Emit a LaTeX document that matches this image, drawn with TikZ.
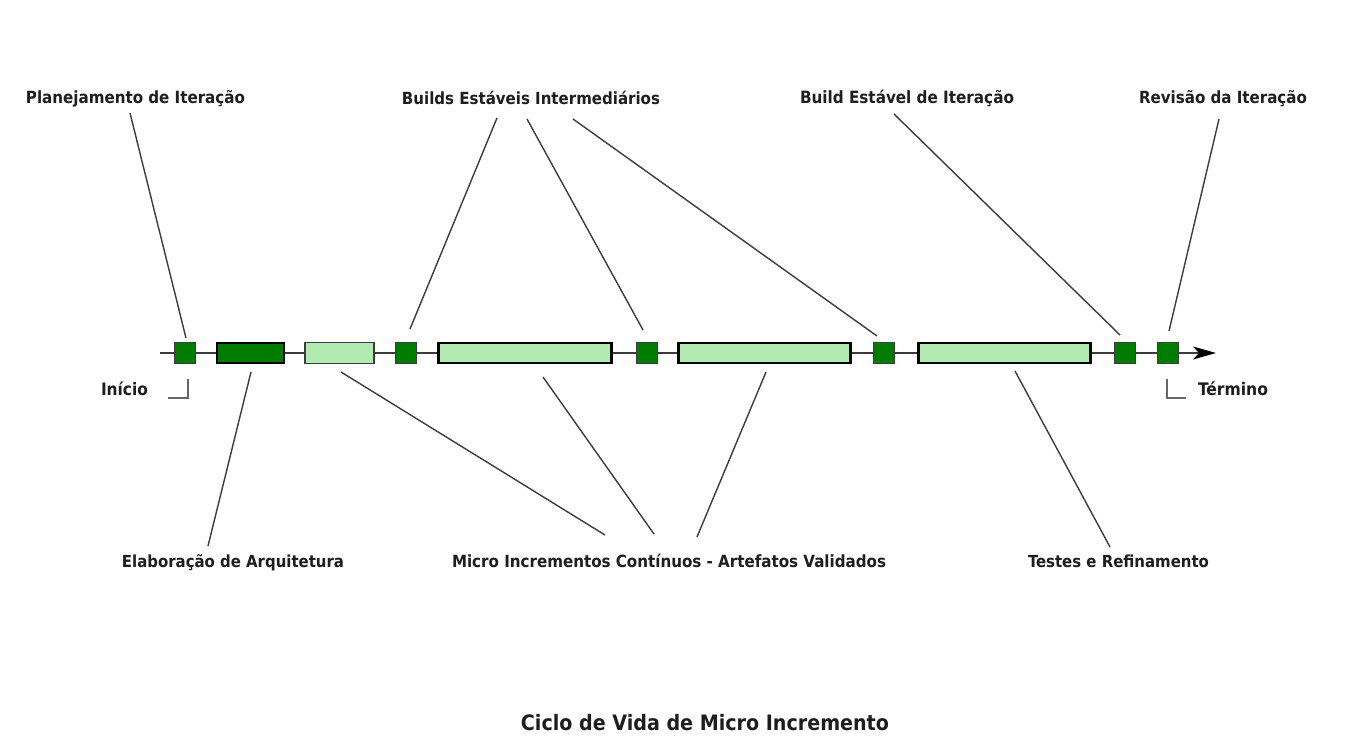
\documentclass[tikz,border=0pt]{standalone}
\usepackage{fontspec}
\setmainfont{DejaVu Sans Condensed}
\usetikzlibrary{arrows.meta}
\definecolor{dg}{RGB}{0,125,0}
\definecolor{lg}{RGB}{178,235,178}
\definecolor{ln}{RGB}{60,60,60}
\definecolor{tx}{RGB}{30,30,30}
\newcommand{\fitto}[2]{\resizebox{#1pt}{!}{\bfseries #2}}
\begin{document}
\begin{tikzpicture}[x=1pt,y=-1pt,
  lbl/.style={inner sep=0pt,anchor=base,text=tx},
  conn/.style={draw=ln,line width=1.4pt},
  brk/.style={draw=black!60,line width=1.4pt},
  sq/.style={draw=ln,line width=0.9pt,fill=dg,minimum width=21pt,minimum height=21pt,inner sep=0pt},
  barthick/.style={draw=black,line width=2.4pt,minimum height=20pt,inner sep=0pt},
  barthin/.style={draw=ln,line width=1.1pt,fill=lg,minimum height=21pt,inner sep=0pt},
  axis/.style={draw=ln,line width=1.3pt,-{Stealth[length=23pt,width=13pt,inset=6pt,color=black]}}
]
\fill[white] (0,0) rectangle (1365,749);
\useasboundingbox (0,0) rectangle (1365,749);

% axis
\coordinate (axs) at (160,353);
\coordinate (axe) at (1216,353);
\draw[axis] (axs) -- (axe);

% timeline elements
\node[sq] (s1) at (185,353) {};
\node[barthick,fill=dg,minimum width=67pt] (b1) at (250.5,353) {};
\node[barthin,minimum width=69pt] (b2) at (339.5,353) {};
\node[sq] (s2) at (406,353) {};
\node[barthick,fill=lg,minimum width=173pt] (b3) at (525,353) {};
\node[sq] (s3) at (647,353) {};
\node[barthick,fill=lg,minimum width=172pt] (b4) at (764.5,353) {};
\node[sq] (s4) at (884,353) {};
\node[barthick,fill=lg,minimum width=172pt] (b5) at (1004.5,353) {};
\node[sq] (s5) at (1124.5,353) {};
\node[sq] (s6) at (1168,353) {};

% top labels
\node[lbl] (lplan) at (135.5,104) {\fitto{219}{Planejamento de Iteração}};
\node[lbl] (lbuilds) at (531,104) {\fitto{258}{Builds Estáveis Intermediários}};
\node[lbl] (lbuild) at (907,104) {\fitto{214}{Build Estável de Iteração}};
\node[lbl] (lrev) at (1223,104) {\fitto{168}{Revisão da Iteração}};

% bottom labels
\node[lbl] (lini) at (124.5,395) {\fitto{47}{Início}};
\node[lbl] (lter) at (1233,395) {\fitto{70}{Término}};
\node[lbl] (lelab) at (233,567) {\fitto{222}{Elaboração de Arquitetura}};
\node[lbl] (lmicro) at (669,567) {\fitto{434}{Micro Incrementos Contínuos - Artefatos Validados}};
\node[lbl] (ltest) at (1118.5,567) {\fitto{181}{Testes e Refinamento}};
\node[lbl] (ltitle) at (705,730) {\fitto{368}{Ciclo de Vida de Micro Incremento}};

% connector endpoints
\coordinate (c1a) at (130,113);  \coordinate (c1b) at (186,338);
\coordinate (c2a) at (497,118);  \coordinate (c2b) at (410,329);
\coordinate (c3a) at (527,119);  \coordinate (c3b) at (643,330);
\coordinate (c4a) at (573,119);  \coordinate (c4b) at (877,336);
\coordinate (c5a) at (894,114);  \coordinate (c5b) at (1120,335);
\coordinate (c6a) at (1219,119); \coordinate (c6b) at (1169,331);
\coordinate (d1a) at (251,372);  \coordinate (d1b) at (208,546);
\coordinate (d2a) at (341,372);  \coordinate (d2b) at (605,535);
\coordinate (d3a) at (543,377);  \coordinate (d3b) at (654,534);
\coordinate (d4a) at (766,372);  \coordinate (d4b) at (697,537);
\coordinate (d5a) at (1015,371); \coordinate (d5b) at (1110,547);

\draw[conn] (c1a) -- (c1b);
\draw[conn] (c2a) -- (c2b);
\draw[conn] (c3a) -- (c3b);
\draw[conn] (c4a) -- (c4b);
\draw[conn] (c5a) -- (c5b);
\draw[conn] (c6a) -- (c6b);
\draw[conn] (d1a) -- (d1b);
\draw[conn] (d2a) -- (d2b);
\draw[conn] (d3a) -- (d3b);
\draw[conn] (d4a) -- (d4b);
\draw[conn] (d5a) -- (d5b);

% brackets
\coordinate (bi1) at (188,379); \coordinate (bi2) at (188,398); \coordinate (bi3) at (168,398);
\draw[brk] (bi1) -- (bi2) -- (bi3);
\coordinate (bt1) at (1167,379); \coordinate (bt2) at (1167,398); \coordinate (bt3) at (1186,398);
\draw[brk] (bt1) -- (bt2) -- (bt3);
\end{tikzpicture}
\end{document}
